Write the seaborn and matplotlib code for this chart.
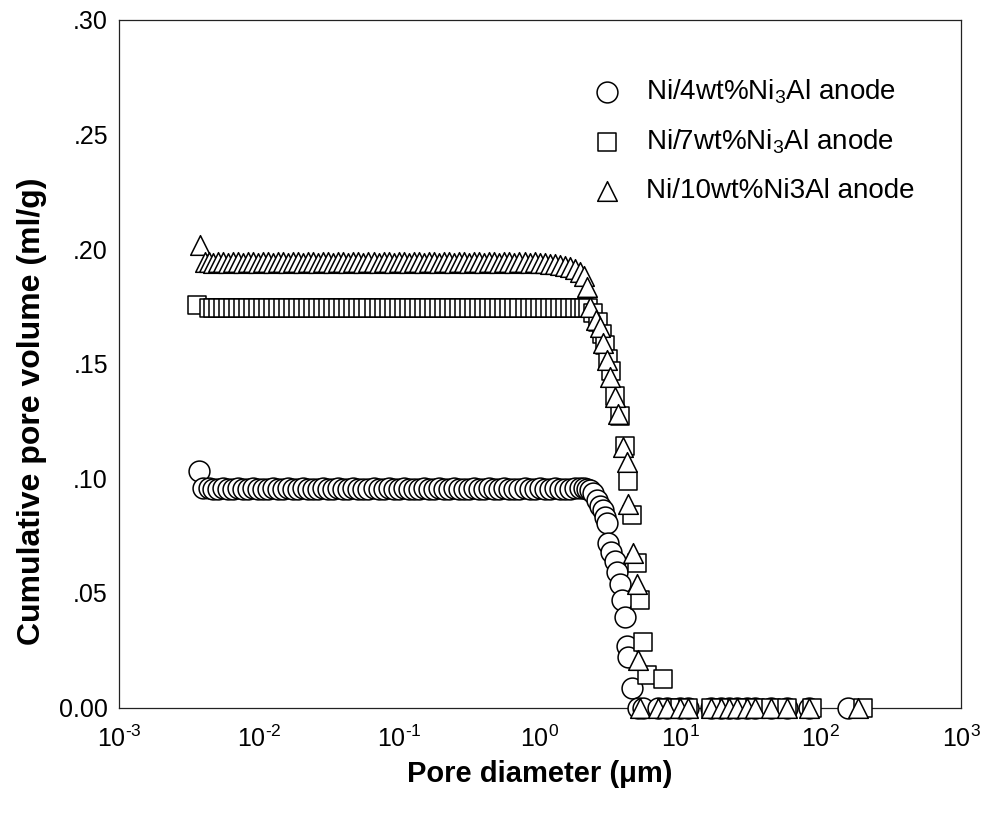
import matplotlib
matplotlib.use("Agg")
import matplotlib.pyplot as plt
from matplotlib.ticker import FixedLocator, FixedFormatter, NullLocator
import pandas as pd
import seaborn as sns

# ---------------------------------------------------------------------------
# Mercury intrusion data: pore diameter (um) vs cumulative pore volume (ml/g)
# ---------------------------------------------------------------------------

# pressure-step diameters on the fine-pore plateau, shared by the three runs
fine_d = [0.0044, 0.0047, 0.0051, 0.0055, 0.0060, 0.0065, 0.0071, 0.0077, 0.0083,
          0.0090, 0.0098, 0.0106, 0.0115, 0.0125, 0.0136, 0.0148, 0.0160, 0.0174,
          0.0189, 0.0205, 0.0223, 0.0242, 0.0263, 0.0285, 0.0310, 0.0336, 0.0365,
          0.0397, 0.0431, 0.0468, 0.0508, 0.0552, 0.0599, 0.0651, 0.0707, 0.0768,
          0.0834, 0.0906, 0.0984, 0.107, 0.116, 0.126, 0.137, 0.149, 0.161, 0.175,
          0.190, 0.207, 0.225, 0.244, 0.265, 0.288, 0.313, 0.340, 0.369, 0.401,
          0.435, 0.473, 0.513, 0.558, 0.606, 0.658, 0.714, 0.776, 0.843, 0.915,
          0.994, 1.08, 1.17, 1.27, 1.38, 1.50, 1.63, 1.77, 1.92]

fine_v_4 = [0.0956, 0.0955, 0.0955, 0.0956, 0.0955, 0.0955, 0.0956, 0.0955, 0.0955,
            0.0956, 0.0955, 0.0955, 0.0955, 0.0956, 0.0955, 0.0955, 0.0956, 0.0955,
            0.0955, 0.0956, 0.0955, 0.0955, 0.0955, 0.0956, 0.0955, 0.0955, 0.0956,
            0.0955, 0.0955, 0.0956, 0.0955, 0.0955, 0.0955, 0.0956, 0.0955, 0.0955,
            0.0956, 0.0955, 0.0955, 0.0956, 0.0955, 0.0955, 0.0955, 0.0956, 0.0955,
            0.0955, 0.0956, 0.0955, 0.0955, 0.0956, 0.0955, 0.0955, 0.0955, 0.0956,
            0.0955, 0.0955, 0.0956, 0.0955, 0.0955, 0.0956, 0.0955, 0.0955, 0.0955,
            0.0956, 0.0955, 0.0955, 0.0956, 0.0955, 0.0955, 0.0956, 0.0955, 0.0955,
            0.0955, 0.0956, 0.0956]

fine_v_7 = [0.1745, 0.1744, 0.1745, 0.1745, 0.1744, 0.1745, 0.1745, 0.1744, 0.1745,
            0.1745, 0.1744, 0.1745, 0.1745, 0.1744, 0.1745, 0.1745, 0.1744, 0.1745,
            0.1745, 0.1744, 0.1745, 0.1745, 0.1744, 0.1745, 0.1745, 0.1744, 0.1745,
            0.1745, 0.1744, 0.1745, 0.1745, 0.1744, 0.1745, 0.1745, 0.1744, 0.1745,
            0.1745, 0.1744, 0.1745, 0.1745, 0.1744, 0.1745, 0.1745, 0.1744, 0.1745,
            0.1745, 0.1744, 0.1745, 0.1745, 0.1744, 0.1745, 0.1745, 0.1744, 0.1745,
            0.1745, 0.1744, 0.1745, 0.1745, 0.1744, 0.1745, 0.1745, 0.1744, 0.1745,
            0.1745, 0.1744, 0.1745, 0.1745, 0.1744, 0.1745, 0.1745, 0.1744, 0.1745,
            0.1745, 0.1744, 0.1745]

fine_v_10 = [0.1942, 0.1941, 0.1942, 0.1942, 0.1941, 0.1942, 0.1942, 0.1941, 0.1942,
             0.1942, 0.1941, 0.1942, 0.1942, 0.1941, 0.1942, 0.1942, 0.1941, 0.1942,
             0.1942, 0.1941, 0.1942, 0.1942, 0.1941, 0.1942, 0.1942, 0.1941, 0.1942,
             0.1942, 0.1941, 0.1942, 0.1942, 0.1941, 0.1942, 0.1942, 0.1941, 0.1942,
             0.1942, 0.1941, 0.1942, 0.1942, 0.1941, 0.1942, 0.1942, 0.1941, 0.1942,
             0.1942, 0.1941, 0.1942, 0.1942, 0.1941, 0.1942, 0.1942, 0.1941, 0.1942,
             0.1942, 0.1941, 0.1942, 0.1942, 0.1941, 0.1942, 0.1942, 0.1941, 0.1942,
             0.1942, 0.1941, 0.1942, 0.1940, 0.1939, 0.1937, 0.1935, 0.1932, 0.1928,
             0.1922, 0.1915, 0.1902]

# highest-pressure points (smallest pores)
start_d_4 = [0.0037, 0.0040]
start_v_4 = [0.1030, 0.0956]
start_d_7 = [0.0036]
start_v_7 = [0.1757]
start_d_10 = [0.0038, 0.0041]
start_v_10 = [0.2020, 0.1942]

# intrusion step and the coarse-pore tail (low pressure)
coarse_d_4 = [2.05, 2.16, 2.28, 2.40, 2.55, 2.68, 2.81, 2.90, 3.00, 3.05, 3.20,
              3.43, 3.54, 3.72, 3.84, 4.03, 4.17, 4.24, 4.52,
              5.0, 5.4, 6.9, 8.1, 9.9, 11.4, 16.5, 19.6, 22.1, 25.3, 29.9, 34.0,
              44.2, 57.5, 83.0, 157.0]
coarse_v_4 = [0.0956, 0.0955, 0.0950, 0.0935, 0.0906, 0.0880, 0.0860, 0.0830,
              0.0805, 0.0720, 0.0680, 0.0640, 0.0590, 0.0540, 0.0470, 0.0395,
              0.0270, 0.0220, 0.0085,
              0.0, 0.0, 0.0, 0.0, 0.0, 0.0, 0.0, 0.0, 0.0, 0.0, 0.0, 0.0,
              0.0, 0.0, 0.0, 0.0]

coarse_d_7 = [2.05, 2.20, 2.40, 2.60, 2.75, 2.90, 3.05, 3.20, 3.42, 3.72, 4.03,
              4.24, 4.52, 4.91, 5.16, 5.42, 5.79, 7.5,
              8.1, 9.9, 11.4, 16.5, 19.6, 22.1, 25.3, 29.9, 34.0, 44.2, 57.5,
              87.0, 200.0]
coarse_v_7 = [0.1745, 0.1742, 0.1720, 0.1680, 0.1630, 0.1580, 0.1520, 0.1470,
              0.1360, 0.1270, 0.1140, 0.0990, 0.0840, 0.0630, 0.0470, 0.0286,
              0.0142, 0.0125,
              0.0, 0.0, 0.0, 0.0, 0.0, 0.0, 0.0, 0.0, 0.0, 0.0, 0.0,
              0.0, 0.0]

coarse_d_10 = [2.05, 2.15, 2.27, 2.50, 2.68, 2.81, 3.00, 3.16, 3.42, 3.60, 3.90,
               4.17, 4.24, 4.60, 4.91, 4.99,
               5.2, 6.9, 8.1, 9.9, 11.4, 16.5, 19.6, 22.1, 25.3, 29.9, 34.0,
               44.2, 57.5, 83.0, 184.0]
coarse_v_10 = [0.1885, 0.1835, 0.1748, 0.1690, 0.1660, 0.1590, 0.1516, 0.1443,
               0.1355, 0.1280, 0.1137, 0.1070, 0.0890, 0.0674, 0.0540, 0.0207,
               0.0, 0.0, 0.0, 0.0, 0.0, 0.0, 0.0, 0.0, 0.0, 0.0, 0.0,
               0.0, 0.0, 0.0, 0.0]

series_labels = [r"Ni/4wt%Ni$_3$Al anode",
                 r"Ni/7wt%Ni$_3$Al anode",
                 "Ni/10wt%Ni3Al anode"]

x_ticks = [1e-3, 1e-2, 1e-1, 1e0, 1e1, 1e2, 1e3]
x_tick_labels = [r"10$^{\text{-}3}$", r"10$^{\text{-}2}$", r"10$^{\text{-}1}$",
                 r"10$^{0}$", r"10$^{1}$", r"10$^{2}$", r"10$^{3}$"]
y_ticks = [0.0, 0.05, 0.10, 0.15, 0.20, 0.25, 0.30]
y_tick_labels = ["0.00", ".05", ".10", ".15", ".20", ".25", ".30"]

# ---------------------------------------------------------------------------
sns.set_theme(style="white")
plt.rcParams["font.family"] = ["Liberation Sans", "DejaVu Sans"]
plt.rcParams["mathtext.fontset"] = "custom"
plt.rcParams["mathtext.rm"] = "Liberation Sans"
plt.rcParams["mathtext.it"] = "Liberation Sans:italic"
plt.rcParams["mathtext.bf"] = "Liberation Sans:bold"
plt.rcParams["mathtext.default"] = "regular"


def build(start_d, start_v, fine_v, coarse_d, coarse_v):
    d = list(start_d) + list(fine_d) + list(coarse_d)
    v = list(start_v) + list(fine_v) + list(coarse_v)
    return pd.DataFrame({"diameter": d, "volume": v}).sort_values("diameter")


frames = [
    build(start_d_4, start_v_4, fine_v_4, coarse_d_4, coarse_v_4),
    build(start_d_7, start_v_7, fine_v_7, coarse_d_7, coarse_v_7),
    build(start_d_10, start_v_10, fine_v_10, coarse_d_10, coarse_v_10),
]
markers = ["o", "s", "^"]
sizes = [225, 180, 200]

fig = plt.figure(figsize=(9.81, 8.17), dpi=100)
ax = fig.add_axes([119 / 981, 1 - 707.5 / 817, (961 - 119) / 981, (707.5 - 20) / 817])

for df, mk, sz, lab in zip(frames, markers, sizes, series_labels):
    sns.scatterplot(data=df, x="diameter", y="volume", ax=ax, marker=mk, s=sz,
                    color="white", edgecolor="black", linewidth=1.1,
                    clip_on=False, zorder=3, label=lab, legend=False)

ax.set_xscale("log")
ax.set_xlim(1e-3, 1e3)
ax.set_ylim(0, 0.30)

ax.xaxis.set_major_locator(FixedLocator(x_ticks))
ax.xaxis.set_major_formatter(FixedFormatter(x_tick_labels))
ax.xaxis.set_minor_locator(NullLocator())
ax.yaxis.set_major_locator(FixedLocator(y_ticks))
ax.yaxis.set_major_formatter(FixedFormatter(y_tick_labels))
ax.yaxis.set_minor_locator(NullLocator())

ax.tick_params(axis="x", which="major", direction="in", length=12, width=0.8,
               color="#222222", pad=13, labelsize=18, labelcolor="black")
ax.tick_params(axis="y", which="major", direction="in", length=6.5, width=0.8,
               color="#222222", pad=8, labelsize=18, labelcolor="black")
for sp in ax.spines.values():
    sp.set_visible(True)
    sp.set_color("#222222")
    sp.set_linewidth(0.9)
ax.grid(False)

ax.set_xlabel("Pore diameter (\u03bcm)", fontsize=21, fontweight="bold",
              color="black")
ax.xaxis.set_label_coords(0.5, -0.076)
ax.set_ylabel("Cumulative pore volume (ml/g)", fontsize=23, fontweight="bold",
              color="black")
ax.yaxis.set_label_coords(-0.086, 0.431)

leg = ax.legend(loc="upper left", bbox_to_anchor=(593 / 981, 1 - 77 / 817),
                bbox_transform=fig.transFigure, frameon=False,
                prop={"size": 20},
                handlelength=1.0, handletextpad=0.9, labelspacing=0.8,
                borderpad=0, borderaxespad=0, scatterpoints=1)
for t in leg.get_texts():
    t.set_color("black")

fig.savefig("out.png", dpi=100, facecolor="white")
